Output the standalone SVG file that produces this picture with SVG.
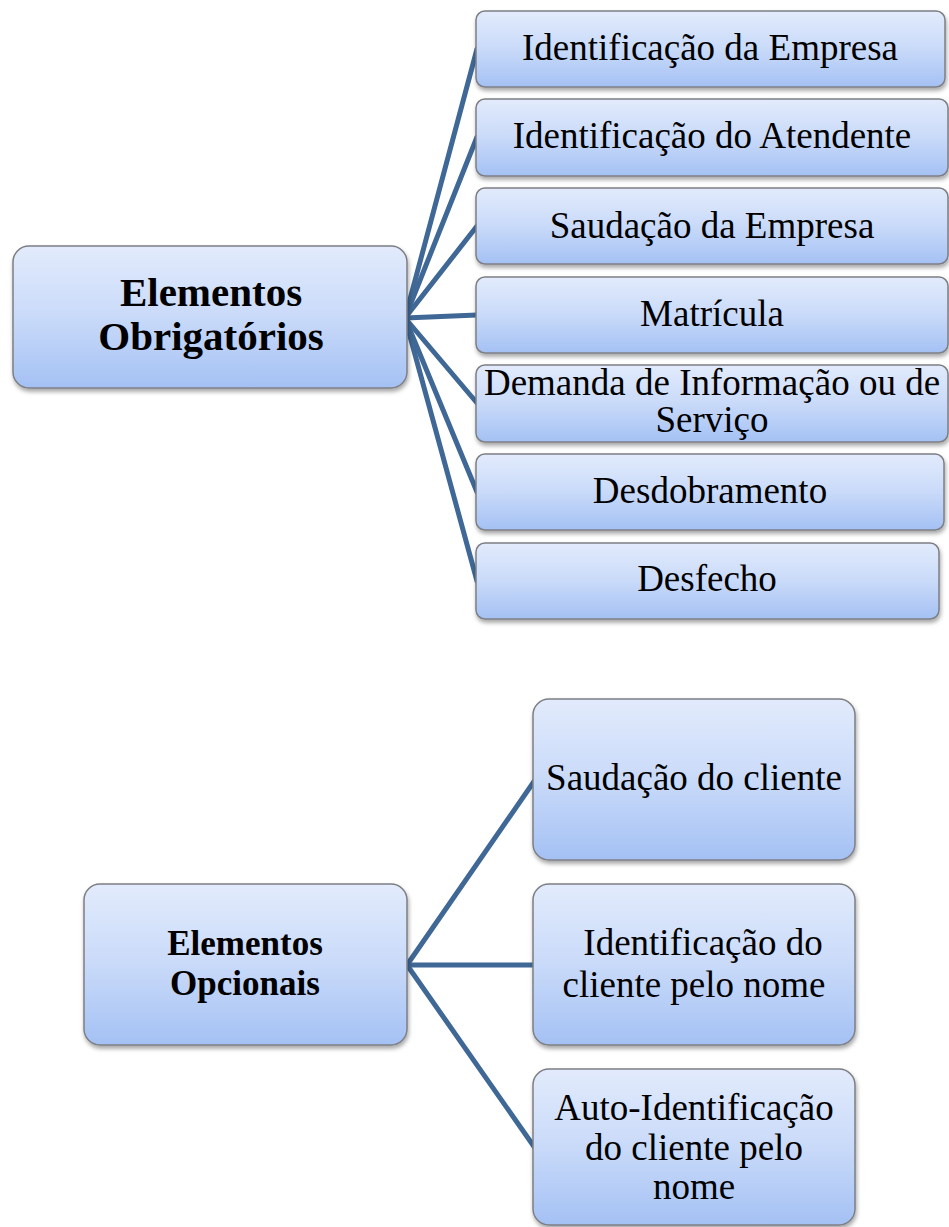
<svg xmlns="http://www.w3.org/2000/svg" width="949" height="1227" viewBox="0 0 949 1227">
<style>
.box{fill:url(#g);stroke:#7d7f84;stroke-width:1.5;filter:url(#sh)}
.t{font-family:"Liberation Serif","Times New Roman",serif;font-size:37px;fill:#000;text-anchor:middle}
.b{font-family:"Liberation Serif","Times New Roman",serif;font-weight:bold;fill:#000;text-anchor:middle}
.c{stroke:#3f6896;stroke-width:5;fill:none;stroke-linecap:round}
</style>
<defs>
<linearGradient id="g" x1="0" y1="0" x2="0" y2="1">
<stop offset="0" stop-color="#e2ebfc"/>
<stop offset="0.5" stop-color="#c9daf9"/>
<stop offset="1" stop-color="#a4c1f4"/>
</linearGradient>
<filter id="sh" x="-10%" y="-10%" width="120%" height="130%">
<feDropShadow dx="1" dy="3" stdDeviation="2" flood-color="#000" flood-opacity="0.35"/>
</filter>
</defs>
<rect width="949" height="1227" fill="#fff"/>
<g id="connectors">
<line class="c" x1="405" y1="318" x2="477" y2="49"/>
<line class="c" x1="405" y1="318" x2="477" y2="137"/>
<line class="c" x1="405" y1="318" x2="477" y2="226"/>
<line class="c" x1="405" y1="318" x2="477" y2="315"/>
<line class="c" x1="405" y1="318" x2="477" y2="403"/>
<line class="c" x1="405" y1="318" x2="477" y2="492"/>
<line class="c" x1="405" y1="318" x2="477" y2="581"/>
<line class="c" x1="407" y1="965" x2="535" y2="780"/>
<line class="c" x1="407" y1="965" x2="535" y2="965"/>
<line class="c" x1="407" y1="965" x2="535" y2="1148"/>
</g>
<g id="obrigatorios">
<rect class="box" x="13" y="246" width="394" height="142" rx="16"/>
<text class="b" font-size="41" x="211" y="306">Elementos</text>
<text class="b" font-size="41" x="211" y="350">Obrigatórios</text>
</g>
<g id="n1"><rect class="box" x="476" y="11" width="469" height="76" rx="9"/><text class="t" x="710" y="60">Identificação da Empresa</text></g>
<g id="n2"><rect class="box" x="476" y="99" width="472" height="77" rx="9"/><text class="t" x="712" y="148">Identificação do Atendente</text></g>
<g id="n3"><rect class="box" x="476" y="188" width="472" height="76" rx="9"/><text class="t" x="712" y="238">Saudação da Empresa</text></g>
<g id="n4"><rect class="box" x="476" y="277" width="472" height="76" rx="9"/><text class="t" x="712" y="326">Matrícula</text></g>
<g id="n5"><rect class="box" x="476" y="365" width="472" height="77" rx="9"/><text class="t" x="712" y="395">Demanda de Informação ou de</text><text class="t" x="712" y="432">Serviço</text></g>
<g id="n6"><rect class="box" x="476" y="454" width="468" height="76" rx="9"/><text class="t" x="710" y="503">Desdobramento</text></g>
<g id="n7"><rect class="box" x="476" y="543" width="463" height="76" rx="9"/><text class="t" x="707" y="591">Desfecho</text></g>
<g id="opcionais">
<rect class="box" x="84" y="884" width="323" height="161" rx="16"/>
<text class="b" font-size="35" x="245" y="955">Elementos</text>
<text class="b" font-size="35" x="245" y="995">Opcionais</text>
</g>
<g id="o1"><rect class="box" x="533" y="699" width="322" height="161" rx="16"/><text class="t" x="694" y="790">Saudação do cliente</text></g>
<g id="o2"><rect class="box" x="533" y="884" width="322" height="161" rx="16"/><text class="t" x="703" y="955">Identificação do</text><text class="t" x="694" y="997">cliente pelo nome</text></g>
<g id="o3"><rect class="box" x="533" y="1069" width="322" height="156" rx="16"/><text class="t" x="694" y="1120">Auto-Identificação</text><text class="t" x="694" y="1160">do cliente pelo</text><text class="t" x="694" y="1199">nome</text></g>
</svg>
